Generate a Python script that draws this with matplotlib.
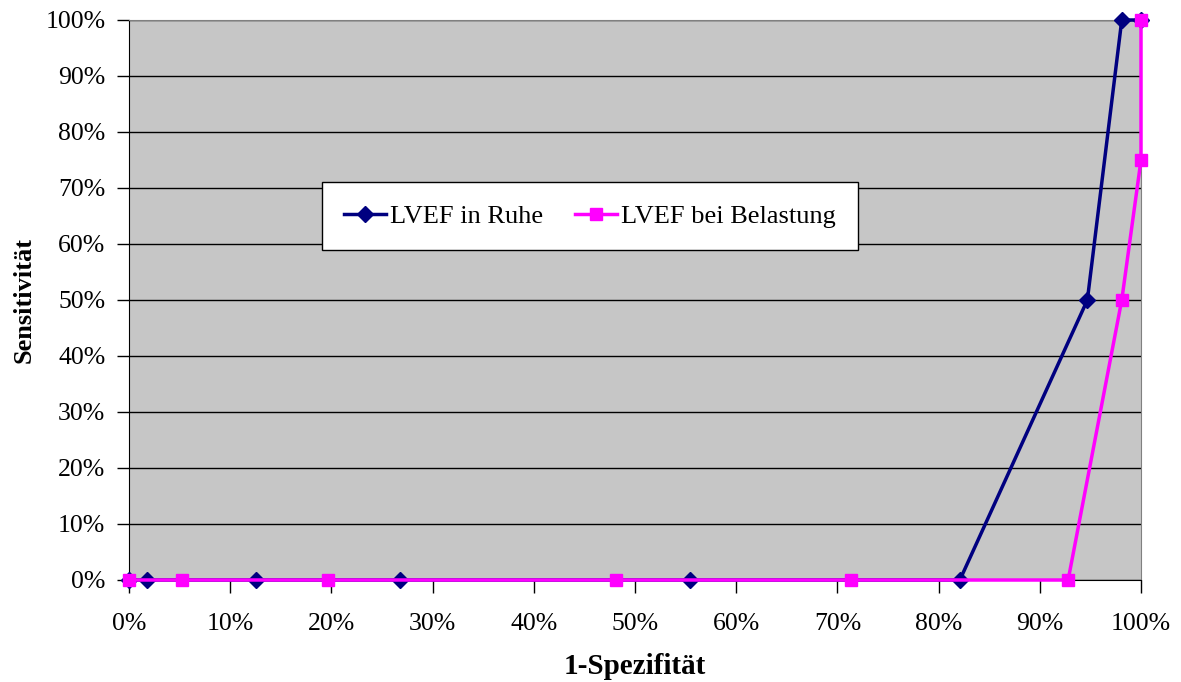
import matplotlib.pyplot as plt
from matplotlib.ticker import FuncFormatter, MultipleLocator

plt.rcParams['font.family'] = ['Liberation Serif', 'DejaVu Serif']

# ROC-Daten (in %)
ruhe_x = [0.0, 1.8, 12.5, 26.8, 55.4, 82.1, 94.7, 98.1, 100.0]
ruhe_y = [0, 0, 0, 0, 0, 0, 50, 100, 100]

belast_x = [0.0, 5.2, 19.7, 48.1, 71.3, 92.8, 98.1, 100.0, 100.0]
belast_y = [0, 0, 0, 0, 0, 0, 50, 75, 100]

labels = ["LVEF in Ruhe", "LVEF bei Belastung"]

fig = plt.figure(figsize=(11.81, 6.82), dpi=100)
ax = fig.add_axes([129 / 1181, 1 - 580 / 682, (1141 - 129) / 1181, (580 - 20) / 682])
ax.set_facecolor("#c6c6c6")

ax.plot(ruhe_x, ruhe_y, color="#000080", lw=2.5, marker="D", ms=8,
        label=labels[0], clip_on=False, zorder=3)
ax.plot(belast_x, belast_y, color="#ff00ff", lw=2.5, marker="s", ms=8.5,
        label=labels[1], clip_on=False, zorder=4)

ax.set_xlim(0, 100)
ax.set_ylim(0, 100)
ax.xaxis.set_major_locator(MultipleLocator(10))
ax.yaxis.set_major_locator(MultipleLocator(10))
pct = FuncFormatter(lambda v, p: f"{v:.0f}%")
ax.xaxis.set_major_formatter(pct)
ax.yaxis.set_major_formatter(pct)
ax.grid(axis="y", color="black", lw=1.0)
ax.set_axisbelow(True)

ax.tick_params(direction="out", length=9, width=1, labelsize=18.5, colors="black")
ax.tick_params(axis="x", pad=15)
ax.tick_params(axis="y", pad=8)
for s in ("top", "right"):
    ax.spines[s].set_color("#808080")
for s in ("left", "bottom"):
    ax.spines[s].set_color("black")

ax.set_xlabel("1-Spezifität", fontsize=21, fontweight="bold", labelpad=13)
ax.set_ylabel("Sensitivität", fontsize=19, fontweight="bold", labelpad=7)

leg = ax.legend(ncol=2, loc="center", bbox_to_anchor=((590 - 129) / 1012, (580 - 216) / 560),
                fontsize=19, frameon=True, fancybox=False, edgecolor="black",
                facecolor="white", framealpha=1.0,
                borderpad=0.85, columnspacing=1.2, handlelength=1.6, handletextpad=0.15)
leg.get_frame().set_linewidth(1)

fig.savefig("out.png", dpi=100)
